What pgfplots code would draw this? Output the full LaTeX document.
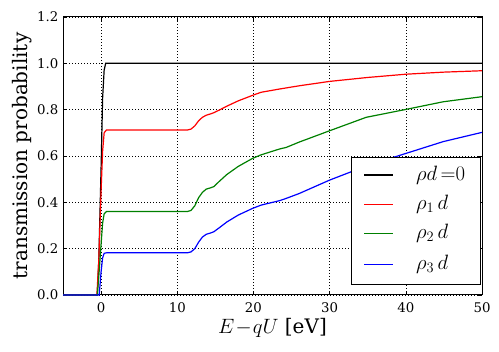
\documentclass[border=0pt]{standalone}
\usepackage{fontspec}
\setmainfont{DejaVu Serif}
\usepackage{pgfplots}
\pgfplotsset{compat=1.18}

\definecolor{mplgreen}{RGB}{0,128,0}
\newcommand{\bigfont}{\fontsize{20}{24}\selectfont}

\begin{document}
\fontsize{13.3}{16}\selectfont
\begin{tikzpicture}
\begin{axis}[
  scale only axis,
  width=419pt, height=278pt,
  xmin=-5, xmax=50, ymin=0, ymax=1.2,
  xtick={0,10,20,30,40,50},
  ytick={0,0.2,0.4,0.6,0.8,1.0,1.2},
  tick align=inside,
  major tick length=4pt,
  tick style={black, line width=0.6pt},
  axis line style={black, line width=1pt},
  grid=major,
  major grid style={black, line width=0.6pt, dash pattern=on 0.8pt off 2.2pt},
  /pgf/number format/assume math mode=true,
  yticklabel style={/pgf/number format/fixed, /pgf/number format/fixed zerofill, /pgf/number format/precision=1},
  xticklabel style={yshift=-3pt},
  xlabel={$E\!-\!qU$ [eV]},
  ylabel={transmission probability},
  xlabel style={font=\bigfont, yshift=3pt},
  ylabel style={font=\bigfont, yshift=-4pt},
  every axis plot/.append style={line width=1.2pt},
  clip=false,
]
\addplot[color=black] coordinates {
(-5,0) (-0.5,0) (-0.3,0.15) (0,0.55) (0.2,0.85) (0.4,0.97) (0.6,1.0) (50,1.0)
};

\addplot[color=red] coordinates {
(-5,0) (-0.55,0) (-0.3,0.15) (0,0.45) (0.2,0.62) (0.4,0.70) (0.7,0.712)
(11.3,0.712) (11.8,0.716) (12.3,0.73) (12.8,0.752) (13.3,0.767) (13.8,0.776)
(14.4,0.782) (14.8,0.787) (15.5,0.798) (16.5,0.815) (18,0.838) (19.9,0.862)
(21,0.875) (23.4,0.889) (26,0.903) (30,0.922) (35,0.939) (40,0.953)
(45,0.962) (50,0.968)
};

\addplot[color=mplgreen] coordinates {
(-5,0) (-0.5,0) (-0.3,0.08) (0,0.22) (0.2,0.31) (0.4,0.35) (0.7,0.36)
(11.3,0.36) (11.8,0.365) (12.3,0.385) (12.8,0.42) (13.3,0.443) (13.8,0.457)
(14.4,0.463) (14.8,0.468) (15.5,0.49) (16.5,0.52) (18,0.555) (19.9,0.59)
(21,0.605) (23.4,0.63) (24.3,0.637) (26,0.66) (30,0.709) (34.8,0.767)
(40,0.801) (44.9,0.834) (50,0.856)
};

\addplot[color=blue] coordinates {
(-5,0) (-0.25,0) (0,0.1) (0.2,0.16) (0.4,0.18) (0.7,0.182)
(11.3,0.182) (11.8,0.186) (12.3,0.2) (12.8,0.228) (13.3,0.25) (13.8,0.262)
(14.4,0.268) (14.8,0.273) (15.5,0.29) (16.5,0.315) (18,0.345) (19.9,0.374)
(21,0.388) (23.4,0.407) (24.3,0.417) (26,0.438) (30,0.496) (34.8,0.557)
(40,0.611) (44.9,0.662) (50,0.702)
};

% legend box, drawn by hand
\draw[black, line width=1pt, fill=white]
  (rel axis cs:0.6874,0.036) rectangle (rel axis cs:0.9969,0.4953);
\draw[black, line width=1.2pt] (rel axis cs:0.7184,0.4317) -- (rel axis cs:0.7876,0.4317);
\draw[red, line width=1.2pt] (rel axis cs:0.7184,0.3263) -- (rel axis cs:0.7876,0.3263);
\draw[mplgreen, line width=1.2pt] (rel axis cs:0.7184,0.2219) -- (rel axis cs:0.7876,0.2219);
\draw[blue, line width=1.2pt] (rel axis cs:0.7184,0.1104) -- (rel axis cs:0.7876,0.1104);
\node[anchor=west, inner sep=0pt, font=\bigfont] at (rel axis cs:0.8425,0.4317) {$\rho d\,{=}0$};
\node[anchor=west, inner sep=0pt, font=\bigfont] at (rel axis cs:0.8425,0.3263) {$\rho_1\,d$};
\node[anchor=west, inner sep=0pt, font=\bigfont] at (rel axis cs:0.8425,0.2219) {$\rho_2\,d$};
\node[anchor=west, inner sep=0pt, font=\bigfont] at (rel axis cs:0.8425,0.1104) {$\rho_3\,d$};
\end{axis}
\pgfresetboundingbox
\path ([shift={(-63pt,-57pt)}]current axis.south west) rectangle ([shift={(17pt,17pt)}]current axis.north east);
\end{tikzpicture}
\end{document}
